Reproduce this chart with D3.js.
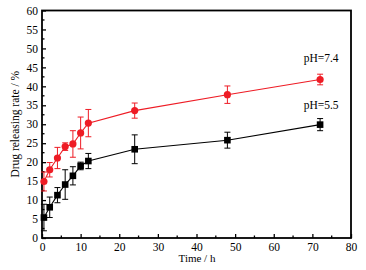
<!DOCTYPE html>
<html><head><meta charset="utf-8">
<script src="https://cdn.jsdelivr.net/npm/d3@7"></script>
<style>body{margin:0;background:#fff}svg{display:block}</style>
</head><body>
<svg id="c" width="366" height="270"></svg>
<script>
const times = [0.5, 2, 4, 6, 8, 10, 12, 24, 48, 72];
const ph74 = [14.9, 18.0, 21.1, 24.1, 24.8, 27.7, 30.3, 33.6, 37.8, 41.8];
const ph74Err = [2.5, 1.9, 2.8, 1.0, 3.5, 4.2, 3.6, 2.0, 2.3, 1.4];
const ph55 = [5.4, 8.1, 11.3, 14.1, 16.4, 19.0, 20.3, 23.4, 25.8, 29.9];
const ph55Err = [3.5, 2.7, 2.0, 3.9, 2.4, 1.0, 2.0, 3.8, 2.1, 1.6];
const xTicks = [0, 10, 20, 30, 40, 50, 60, 70, 80];
const yTicks = [0, 5, 10, 15, 20, 25, 30, 35, 40, 45, 50, 55, 60];
const seriesNames = ["pH=7.4", "pH=5.5"];

const svg = d3.select("#c");
const L = 42, R = 351, T = 10.5, B = 238;
const x = d3.scaleLinear().domain([0, 80]).range([L, R]);
const y = d3.scaleLinear().domain([0, 60]).range([B, T]);
const font = "'Liberation Serif', 'Times New Roman', serif";

svg.append("rect").attr("x", L).attr("y", T).attr("width", R - L).attr("height", B - T)
  .attr("fill", "none").attr("stroke", "#000").attr("stroke-width", 1.8);

const xAxis = d3.axisBottom(x).tickValues(xTicks).tickSizeInner(-4).tickSizeOuter(0).tickPadding(3);
const gx = svg.append("g").attr("transform", `translate(0,${B})`).call(xAxis);
const yAxis = d3.axisLeft(y).tickValues(yTicks).tickSizeInner(-4).tickSizeOuter(0).tickPadding(4);
const gy = svg.append("g").attr("transform", `translate(${L},0)`).call(yAxis);
[gx, gy].forEach(g => {
  g.select(".domain").remove();
  g.selectAll(".tick line").attr("stroke", "#000").attr("stroke-width", 1.3);
  g.selectAll(".tick text").attr("font-family", font).attr("font-size", 11.5).attr("fill", "#000");
});
gx.selectAll(".tick text").attr("y", 5).attr("dy", "0.71em");
const xMinor = d3.range(5, 80, 10);
svg.append("g").selectAll("line").data(xMinor).join("line")
  .attr("x1", d => x(d)).attr("x2", d => x(d)).attr("y1", B).attr("y2", B - 2.5)
  .attr("stroke", "#000").attr("stroke-width", 1.3);
const yMinor = d3.range(2.5, 60, 5);
svg.append("g").selectAll("line").data(yMinor).join("line")
  .attr("y1", d => y(d)).attr("y2", d => y(d)).attr("x1", L).attr("x2", L + 2.5)
  .attr("stroke", "#000").attr("stroke-width", 1.3);

svg.append("text").attr("x", 197).attr("y", 262).attr("text-anchor", "middle")
  .attr("font-family", font).attr("font-size", 11).text("Time / h");
svg.append("text").attr("transform", `translate(19,${(T + B) / 2}) rotate(-90)`).attr("text-anchor", "middle")
  .attr("font-family", font).attr("font-size", 11.5).text("Drug releasing rate / %");

function drawSeries(vals, errs, color, shape) {
  const g = svg.append("g");
  const line = d3.line().x((d, i) => x(times[i])).y(d => y(d));
  g.append("path").datum(vals).attr("d", line).attr("fill", "none").attr("stroke", color).attr("stroke-width", 1.1);
  const eb = g.append("g").selectAll("g").data(vals).join("g");
  eb.append("line").attr("x1", (d, i) => x(times[i])).attr("x2", (d, i) => x(times[i]))
    .attr("y1", (d, i) => y(d + errs[i])).attr("y2", (d, i) => y(d - errs[i]))
    .attr("stroke", color).attr("stroke-width", 1);
  [1, -1].forEach(s => {
    eb.append("line").attr("x1", (d, i) => x(times[i]) - 3).attr("x2", (d, i) => x(times[i]) + 3)
      .attr("y1", (d, i) => y(d + s * errs[i])).attr("y2", (d, i) => y(d + s * errs[i]))
      .attr("stroke", color).attr("stroke-width", 1);
  });
  if (shape === "circle") {
    g.append("g").selectAll("circle").data(vals).join("circle")
      .attr("cx", (d, i) => x(times[i])).attr("cy", d => y(d)).attr("r", 3.6).attr("fill", color);
  } else {
    g.append("g").selectAll("rect").data(vals).join("rect")
      .attr("x", (d, i) => x(times[i]) - 3.3).attr("y", d => y(d) - 3.3)
      .attr("width", 6.6).attr("height", 6.6).attr("fill", color);
  }
}
drawSeries(ph55, ph55Err, "#000", "square");
drawSeries(ph74, ph74Err, "#ee1c25", "circle");

svg.append("text").attr("x", x(72) + 1).attr("y", y(ph74[9] + 4.6)).attr("text-anchor", "middle")
  .attr("font-family", font).attr("font-size", 11.5).text(seriesNames[0]);
svg.append("text").attr("x", x(72) + 1).attr("y", y(ph55[9] + 4.2)).attr("text-anchor", "middle")
  .attr("font-family", font).attr("font-size", 11.5).text(seriesNames[1]);
</script>
</body></html>
